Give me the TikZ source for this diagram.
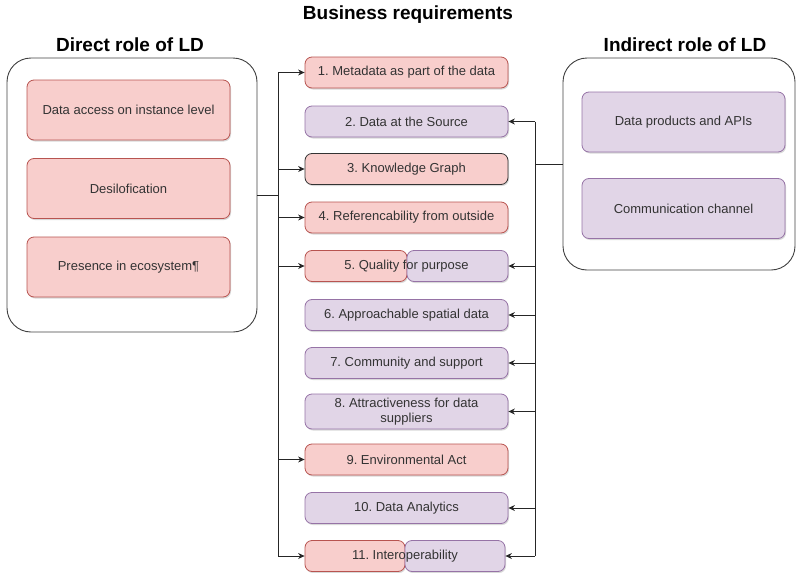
\documentclass[tikz,border=0pt]{standalone}
\usepackage{fontspec}
\setmainfont{Liberation Sans}
\usetikzlibrary{arrows.meta,shadows}
\definecolor{pinkfill}{HTML}{F8CECC}
\definecolor{pinkline}{HTML}{B85450}
\definecolor{lilacfill}{HTML}{E1D5E7}
\definecolor{lilacline}{HTML}{9673A6}
\definecolor{boxtext}{HTML}{333333}
\frenchspacing
\tikzset{
  basebox/.style={rounded corners=7pt, line width=0.8pt, inner sep=0pt,
    minimum width=203pt, minimum height=31pt, align=center, text=boxtext,
    font=\fontsize{13}{15}\selectfont},
  shadowed/.style={drop shadow={shadow xshift=1pt, shadow yshift=-1.5pt, opacity=0.25, fill=black!60}},
  pinkbox/.style={basebox, shadowed, fill=pinkfill, draw=pinkline},
  lilacbox/.style={basebox, shadowed, fill=lilacfill, draw=lilacline},
  rolebox/.style={draw=black!75, line width=0.9pt, rounded corners=24pt, inner sep=0pt},
  roletitle/.style={font=\fontsize{19}{22}\selectfont\bfseries},
  link/.style={line width=0.9pt, draw=black!85},
  arr/.style={link, -{Stealth[length=6.5pt, width=6pt]}}
}
\begin{document}
\begin{tikzpicture}[x=1pt, y=-1pt]
  \useasboundingbox (0,0) rectangle (796,573);

  % Titles
  \node[roletitle] (reqtitle) at (408,15) {Business requirements};
  \node[roletitle] (directtitle) at (130,45) {Direct role of LD};
  \node[roletitle] (indirecttitle) at (685,45) {Indirect role of LD};

  % Direct role of LD
  \node[rolebox, minimum width=250pt, minimum height=274pt] (directbox) at (132,195) {};
  \node[pinkbox, minimum height=60pt] (d1) at (128.5,110) {Data access on instance level};
  \node[pinkbox, minimum height=60pt] (d2) at (128.5,188.5) {Desilofication};
  \node[pinkbox, minimum height=60pt] (d3) at (128.5,267) {Presence in ecosystem¶};

  % Indirect role of LD
  \node[rolebox, minimum width=232pt, minimum height=212pt] (indirectbox) at (679,164) {};
  \node[lilacbox, minimum height=60pt] (i1) at (683.5,122) {Data products and APIs};
  \node[lilacbox, minimum height=60pt] (i2) at (683.5,208.5) {Communication channel};

  % Business requirements
  \node[pinkbox] (r1) at (406.5,72.5) {1. Metadata as part of the data};
  \node[lilacbox] (r2) at (406.5,121.5) {2. Data at the Source};
  \node[pinkbox, draw=black!80] (r3) at (406.5,169) {3. Knowledge Graph};
  \node[pinkbox] (r4) at (406.5,217.5) {4. Referencability from outside};
  \node[pinkbox, minimum width=102pt] (r5a) at (356,266) {};
  \node[lilacbox, minimum width=101pt] (r5b) at (457.5,266) {};
  \node[basebox] (r5) at (406.5,266) {5. Quality for purpose};
  \node[lilacbox] (r6) at (406.5,315) {6. Approachable spatial data};
  \node[lilacbox] (r7) at (406.5,363) {7. Community and support};
  \node[lilacbox, minimum height=35pt] (r8) at (406.5,411.5) {8. Attractiveness for data\\suppliers};
  \node[pinkbox] (r9) at (406.5,459.5) {9. Environmental Act};
  \node[lilacbox] (r10) at (406.5,508) {10. Data Analytics};
  \node[pinkbox, minimum width=100pt] (r11a) at (355,556) {};
  \node[lilacbox, minimum width=100pt] (r11b) at (455,556) {};
  \node[basebox, minimum width=200pt] (r11) at (405,556) {11. Interoperability};

  % Left bus
  \coordinate (lbus) at (278,195);
  \draw[link] (directbox.east) -- (lbus);
  \draw[link] (lbus |- r1) -- (lbus |- r11);
  \foreach \i in {1,3,4,5,9,11}
    \draw[arr] (lbus |- r\i) -- (r\i.west);

  % Right bus
  \coordinate (rbus) at (535,164);
  \draw[link] (indirectbox.west) -- (rbus);
  \draw[link] (rbus |- r2) -- (rbus |- r11);
  \foreach \i in {2,5,6,7,8,10,11}
    \draw[arr] (rbus |- r\i) -- (r\i.east);
\end{tikzpicture}
\end{document}
